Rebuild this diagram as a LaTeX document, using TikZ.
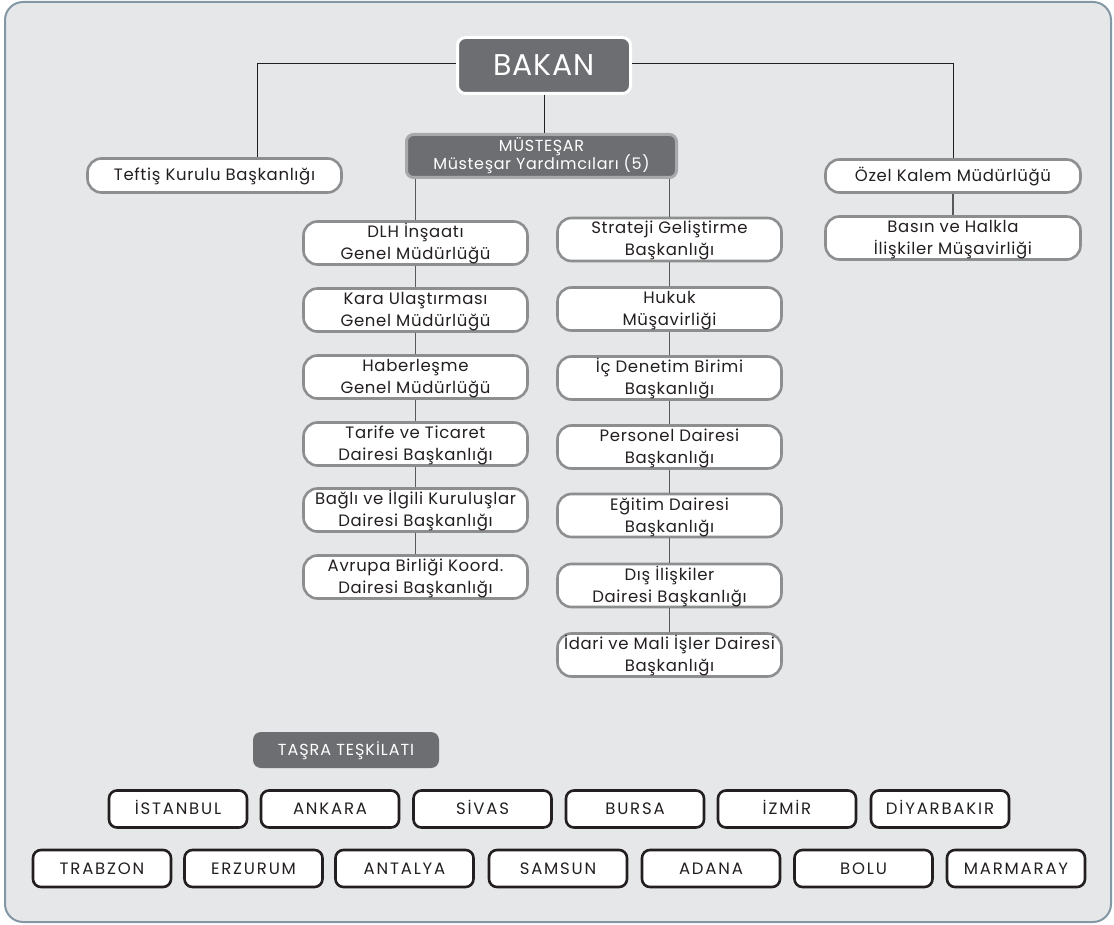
\documentclass[tikz,border=0pt]{standalone}
\usepackage{fontspec}
\setmainfont{Poppins}
\usetikzlibrary{calc}
\definecolor{bgc}{HTML}{E6E7E8}
\definecolor{framec}{HTML}{8397A4}
\definecolor{darkc}{HTML}{6D6E71}
\definecolor{grayc}{HTML}{8C8E90}
\definecolor{lightc}{HTML}{A7A9AC}
\definecolor{inkc}{HTML}{231F20}
\definecolor{linec}{HTML}{58595B}
\newcommand{\sizeA}{\fontsize{16.5}{22}\selectfont\addfontfeature{LetterSpace=4}}
\newcommand{\sizeB}{\fontsize{16.5}{19}\selectfont\addfontfeature{LetterSpace=11}}
\newcommand{\sizeM}{\fontsize{16}{17.5}\selectfont\lineskiplimit=-20pt\lineskip=0pt\addfontfeature{LetterSpace=4}}
\tikzset{
  unit/.style={inner sep=0pt, align=center, text=inkc},
  grbox/.style={unit, fill=white, draw=grayc, line width=2.6pt, rounded corners=14pt, font=\sizeA,
    text height=11pt, text depth=0pt},
  twoline/.style={text height=33pt, text depth=0pt},
  colbox/.style={grbox, twoline, minimum width=224pt, minimum height=43pt},
  blkbox/.style={unit, fill=white, draw=inkc, line width=2.6pt, rounded corners=8pt,
    minimum width=138pt, minimum height=37pt, font=\sizeB, text height=11.5pt, text depth=0pt},
  darkbox/.style={unit, fill=darkc, text=white, rounded corners=8pt},
  topline/.style={draw=inkc, line width=1pt},
  colline/.style={draw=linec, line width=1.3pt},
}
\begin{document}
\begin{tikzpicture}[x=1pt,y=-1pt]
\useasboundingbox (0,0) rectangle (1114,925);
\draw[fill=bgc, draw=framec, line width=2pt, rounded corners=18pt] (5,2) rectangle (1111,922);

% top level
\node[darkbox, draw=white, line width=3pt, minimum width=173pt, minimum height=56pt,
  text height=21pt, text depth=0pt,
  font=\fontsize{30}{32}\selectfont\addfontfeature{LetterSpace=3}] (bakan) at (544,65.5) {BAKAN};
\node[darkbox, draw=lightc, line width=3pt, rounded corners=7pt, minimum width=270pt, minimum height=43pt,
  text height=27pt, text depth=0pt, font=\sizeM] (mus) at (541.5,156) {MÜSTEŞAR\\Müsteşar Yardımcıları (5)};

\node[grbox, minimum width=254pt, minimum height=34pt] (teftis) at (214.5,175.5) {Teftiş Kurulu Başkanlığı};
\node[grbox, minimum width=255pt, minimum height=33pt] (ozel) at (953,176) {Özel Kalem Müdürlüğü};
\node[grbox, twoline, minimum width=255pt, minimum height=43pt] (basin) at (953,238) {Basın ve Halkla\\İlişkiler Müşavirliği};

% left column
\node[colbox] (l1) at (415.5,243) {DLH İnşaatı\\Genel Müdürlüğü};
\node[colbox] (l2) at (415.5,310) {Kara Ulaştırması\\Genel Müdürlüğü};
\node[colbox] (l3) at (415.5,377) {Haberleşme\\Genel Müdürlüğü};
\node[colbox] (l4) at (415.5,444) {Tarife ve Ticaret\\Dairesi Başkanlığı};
\node[colbox] (l5) at (415.5,510) {Bağlı ve İlgili Kuruluşlar\\Dairesi Başkanlığı};
\node[colbox] (l6) at (415.5,577) {Avrupa Birliği Koord.\\Dairesi Başkanlığı};

% right column
\node[colbox] (r1) at (669.5,239.5) {Strateji Geliştirme\\Başkanlığı};
\node[colbox] (r2) at (669.5,309) {Hukuk\\Müşavirliği};
\node[colbox] (r3) at (669.5,378) {İç Denetim Birimi\\Başkanlığı};
\node[colbox] (r4) at (669.5,447) {Personel Dairesi\\Başkanlığı};
\node[colbox] (r5) at (669.5,515.5) {Eğitim Dairesi\\Başkanlığı};
\node[colbox] (r6) at (669.5,585.5) {Dış İlişkiler\\Dairesi Başkanlığı};
\node[colbox] (r7) at (669.5,655) {İdari ve Mali İşler Dairesi\\Başkanlığı};

% connectors
\draw[topline] ([yshift=2pt]bakan.west) -| ([xshift=42.5pt]teftis.north);
\draw[topline] ([yshift=2pt]bakan.east) -| (ozel.north);
\draw[topline] (bakan.south) -- (mus.north -| bakan.south);
\draw[colline] (ozel.south) -- (basin.north);
\draw[colline] (mus.south -| l1.north) -- (l1.north);
\draw[colline] (mus.south -| r1.north) -- (r1.north);
\foreach \a/\b in {l1/l2,l2/l3,l3/l4,l4/l5,l5/l6,r1/r2,r2/r3,r3/r4,r4/r5,r5/r6,r6/r7}
  \draw[colline] (\a.south) -- (\b.north);

% taşra
\node[darkbox, minimum width=186pt, minimum height=36pt, text height=11pt, text depth=0pt,
  font=\fontsize{16}{18}\selectfont\addfontfeature{LetterSpace=6}] (tasra) at (346,750) {TAŞRA TEŞKİLATI};

\node[blkbox] (c1) at (178,809) {İSTANBUL};
\node[blkbox] (c2) at (330,809) {ANKARA};
\node[blkbox] (c3) at (482.5,809) {SİVAS};
\node[blkbox] (c4) at (635,809) {BURSA};
\node[blkbox] (c5) at (787,809) {İZMİR};
\node[blkbox] (c6) at (940,809) {DİYARBAKIR};

\node[blkbox] (d1) at (102,868.5) {TRABZON};
\node[blkbox] (d2) at (253.5,868.5) {ERZURUM};
\node[blkbox] (d3) at (404.5,868.5) {ANTALYA};
\node[blkbox] (d4) at (558,868.5) {SAMSUN};
\node[blkbox] (d5) at (711,868.5) {ADANA};
\node[blkbox] (d6) at (863.5,868.5) {BOLU};
\node[blkbox] (d7) at (1016,868.5) {MARMARAY};
\end{tikzpicture}
\end{document}
